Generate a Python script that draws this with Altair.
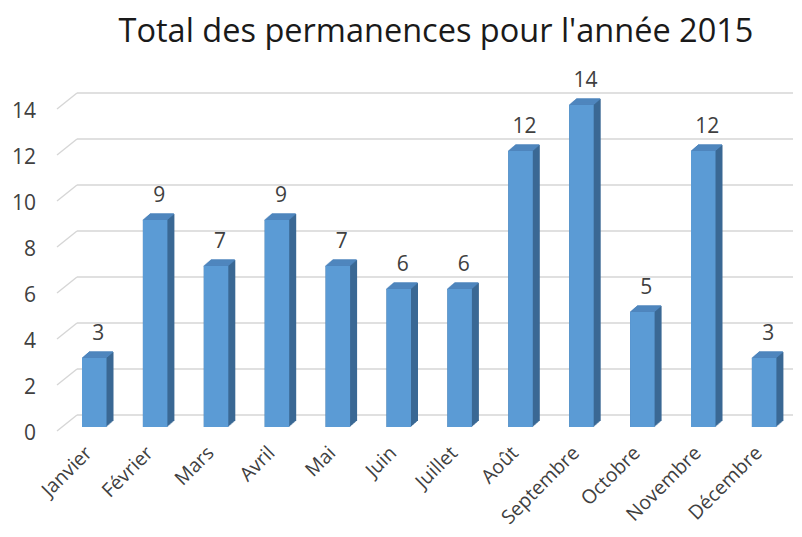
import altair as alt
import pandas as pd

# ---- data ----
months = ["Janvier", "Février", "Mars", "Avril", "Mai", "Juin", "Juillet",
          "Août", "Septembre", "Octobre", "Novembre", "Décembre"]
values = [3, 9, 7, 9, 7, 6, 6, 12, 14, 5, 12, 3]
y_ticks = [0, 2, 4, 6, 8, 10, 12, 14]
title_text = "Total des permanences pour l'année 2015"

# ---- style / geometry (pixels) ----
W, H = 736, 338
BAND = 60.9           # px per category
PX_PER_UNIT = 23      # px per value unit
X_MAX = W / BAND
Y_MAX = H / PX_PER_UNIT
DEPTH_DX, DEPTH_DY = 20, -16   # wall depth (3D)
BAR_DX, BAR_DY = 5, -4         # bar front pushed into depth
GAP = 20
BAR_W = 24.5
SIDE_DX, SIDE_DY = 7, -6       # bar depth

FRONT = "#5B9BD5"
TOP = "#4F86BE"
SIDE = "#3A6894"
GRID = "#D6D6D6"
TXT = "#404040"
FONT = "Open Sans"

bars = pd.DataFrame({"month": months, "value": values, "idx": list(range(len(months)))})
grid = pd.DataFrame({"v": y_ticks})

xs = alt.Scale(domain=[0, X_MAX], nice=False, zero=False)
ys = alt.Scale(domain=[0, Y_MAX], nice=False, zero=True)

X = lambda f: alt.X(f, type="quantitative", scale=xs, axis=None)
Y = lambda f: alt.Y(f, type="quantitative", scale=ys, axis=None)

base_grid = alt.Chart(grid)
back_lines = base_grid.mark_rule(color=GRID, strokeWidth=1.4, xOffset=DEPTH_DX, yOffset=DEPTH_DY).encode(
    x=alt.XDatum(0, scale=xs, axis=None),
    x2=alt.X2Datum(X_MAX),
    y=Y("v"),
)
diag_lines = base_grid.mark_rule(color=GRID, strokeWidth=1.4, x2Offset=DEPTH_DX, y2Offset=DEPTH_DY).encode(
    x=alt.XDatum(0, scale=xs, axis=None),
    x2=alt.X2Datum(0),
    y=Y("v"),
    y2="v",
)
y_labels = base_grid.mark_text(font=FONT, fontSize=21, color=TXT, align="right", baseline="middle",
                               xOffset=-21, yOffset=3).encode(
    x=alt.XDatum(0, scale=xs, axis=None),
    y=Y("v"),
    text="v:Q",
)

base = alt.Chart(bars)
layers = [back_lines, diag_lines, y_labels]

# side (dark) sweep
for k in range(SIDE_DX + 1):
    oy = BAR_DY + SIDE_DY * k / SIDE_DX
    layers.append(base.mark_rect(color=SIDE, xOffset=GAP + BAR_DX + k,
                                 x2Offset=GAP + BAR_DX + BAR_W + k,
                                 yOffset=oy, y2Offset=oy).encode(
        x=X("idx"), x2="idx", y=Y("value"), y2=alt.Y2Datum(0)))
# top face sweep
for k in range(SIDE_DX + 1):
    oy = BAR_DY + SIDE_DY * k / SIDE_DX
    layers.append(base.mark_rule(color=TOP, strokeWidth=1.5, xOffset=GAP + BAR_DX + k,
                                 x2Offset=GAP + BAR_DX + BAR_W + k - 0.5,
                                 yOffset=oy).encode(
        x=X("idx"), x2="idx", y=Y("value")))
# front face
layers.append(base.mark_rect(color=FRONT, xOffset=GAP + BAR_DX, x2Offset=GAP + BAR_DX + BAR_W,
                             yOffset=BAR_DY, y2Offset=BAR_DY).encode(
    x=X("idx"), x2="idx", y=Y("value"), y2=alt.Y2Datum(0)))
# value labels
layers.append(base.mark_text(font=FONT, fontSize=21, color=TXT, baseline="middle", align="center",
                             xOffset=GAP + BAR_DX + BAR_W / 2 + 4, yOffset=BAR_DY - 24).encode(
    x=X("idx"), y=Y("value"), text="value:Q"))
# month labels
layers.append(base.mark_text(font=FONT, fontSize=19.5, color=TXT, baseline="middle", align="right",
                             angle=315, xOffset=32, yOffset=19).encode(
    x=X("idx"), y=alt.YDatum(0, scale=ys, axis=None), text="month:N"))

chart = alt.layer(*layers).properties(
    width=W, height=H,
    padding={"left": 49, "top": 85, "right": 0, "bottom": 98},
    autosize=alt.AutoSizeParams(type="none"),
    title=alt.Title(title_text, font=FONT, fontSize=32.5, fontWeight="normal", color="#1a1a1a",
                    anchor="middle", dx=11, offset=22),
).configure_view(stroke=None)

chart.save("out.html", embed_options={"renderer": "svg", "actions": False})
